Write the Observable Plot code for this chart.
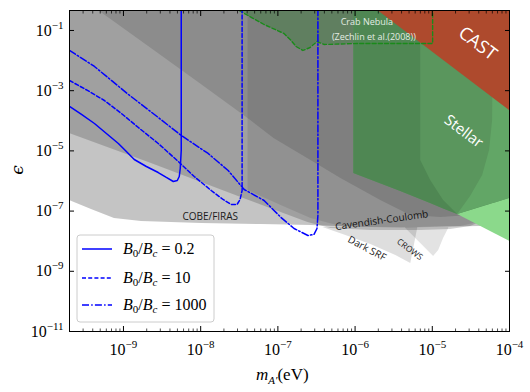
<!DOCTYPE html>
<html><head><meta charset="utf-8">
<script src="https://cdn.jsdelivr.net/npm/d3@7"></script>
<script src="https://cdn.jsdelivr.net/npm/@observablehq/plot@0.6"></script>
<style>body{margin:0;background:#fff}</style>
</head><body><div id="chart"></div>
<script>
// ---------- data (m in eV, epsilon) ----------
const xMajor = [1e-9, 1e-8, 1e-7, 1e-6, 1e-5, 1e-4];
const yMajor = [1e-11, 1e-9, 1e-7, 1e-5, 1e-3, 1e-1];

// B0/Bc = 0.2 (solid)
const solidM   = [2e-10, 2.86e-10, 4.21e-10, 6.01e-10, 8.59e-10, 1.09e-9, 1.38e-9, 1.98e-9, 2.82e-9, 3.59e-9, 4.42e-9, 4.98e-9, 5.28e-9, 5.44e-9, 5.6e-9, 5.6e-9];
const solidEps = [2.99e-4, 1.62e-4, 8.13e-5, 3.78e-5, 1.76e-5, 9.55e-6, 5.18e-6, 3.03e-6, 1.91e-6, 1.31e-6, 9.62e-7, 1.04e-6, 1.41e-6, 2.60e-6, 1.03e-5, 1];
// B0/Bc = 10 (dashed)
const dashM   = [2e-10, 3.42e-10, 5.66e-10, 9.40e-10, 1.56e-9, 2.82e-9, 5.13e-9, 8.25e-9, 1.37e-8, 1.95e-8, 2.48e-8, 2.96e-8, 3.24e-8, 3.44e-8, 3.44e-8];
const dashEps = [2.18e-3, 1.02e-3, 4.72e-4, 1.75e-4, 5.98e-5, 1.76e-5, 4.45e-6, 1.41e-6, 4.83e-7, 2.43e-7, 1.66e-7, 1.66e-7, 2.43e-7, 4.83e-7, 1];
// B0/Bc = 1000 (dash-dot)
const ddM   = [2e-10, 4.21e-10, 1.16e-9, 2.82e-9, 5.60e-9, 1.25e-8, 2.27e-8, 3.66e-8, 6.62e-8, 1.10e-7, 1.62e-7, 2.45e-7, 2.93e-7, 3.21e-7, 3.30e-7, 3.30e-7];
const ddEps = [2.17e-2, 6.37e-3, 7.48e-4, 1.29e-4, 3.25e-5, 8.20e-6, 2.23e-6, 5.22e-7, 2.25e-7, 6.12e-8, 2.64e-8, 1.55e-8, 1.67e-8, 2.64e-8, 7.14e-8, 1];

// COBE/FIRAS lower edge
const cobeM  = [2e-10, 3.85e-10, 7.64e-10, 1.71e-9, 1.02e-8, 6.05e-8, 2.68e-7, 1.19e-6, 7.08e-6, 4.22e-5, 1e-4];
const cobeLo = [2.25e-7, 1.13e-7, 5.67e-8, 4.51e-8, 3.87e-8, 3.59e-8, 3.33e-8, 2.85e-8, 2.85e-8, 3.08e-8, 3.33e-8];
// middle grey band (incl. Cavendish-Coulomb) lower edge
const bandM  = [2e-10, 2.30e-9, 3.34e-8, 1.10e-7, 2.45e-7, 4.86e-7, 1.60e-6, 7.08e-6, 1.73e-5, 3.13e-5, 1e-4];
const bandLo = [3.78e-5, 3.81e-6, 2.83e-7, 8.97e-8, 4.18e-8, 2.64e-8, 2.26e-8, 2.26e-8, 2.45e-8, 3.08e-8, 1.05e-7];
// upper dark grey region lower edge
const upM  = [4.74e-10, 2.30e-9, 1.02e-8, 4.11e-8, 8.91e-8, 2.68e-7, 6.55e-7, 2.15e-6, 5.26e-6, 1.29e-5, 3.13e-5, 1e-4];
const upLo = [0.461, 2.52e-2, 1.61e-3, 1.19e-4, 2.58e-5, 4.80e-6, 1.21e-6, 2.25e-7, 7.14e-8, 6.12e-8, 7.14e-8, 1.53e-7];
// right grey block lower edge
const blkM  = [4.11e-8, 1.10e-7, 2.68e-7, 6.55e-7, 3.91e-6, 2.33e-5, 1e-4];
const blkLo = [4.83e-7, 1.53e-7, 5.67e-8, 3.08e-8, 2.64e-8, 3.08e-8, 7.14e-8];
// Dark SRF and CROWS
const srfM  = [3.83e-7, 7.60e-7, 1.60e-6, 3.37e-6, 5.26e-6, 6.47e-6];
const srfLo = [2.85e-8, 1.55e-8, 7.76e-9, 3.35e-9, 1.82e-9, 2.64e-8];
const crowsM  = [4.53e-6, 7.08e-6, 1.04e-5, 1.21e-5, 1.40e-5, 1.63e-5];
const crowsLo = [2.64e-8, 8.40e-9, 3.10e-9, 4.91e-9, 1.23e-8, 2.64e-8];
const lowTop = 2.85e-8;
// Stellar
const stelM  = [9.64e-7, 3.91e-6, 2.13e-5, 4.22e-5, 1e-4];
const stelLo = [1.77e-6, 4.48e-7, 7.71e-8, 1.32e-7, 2.62e-7];
const stelLightM  = [2.13e-5, 1e-4];
const stelLightLo = [7.71e-8, 1.0e-8];
const stelDarkM  = [9.64e-7, 3.91e-6, 7.08e-6, 7.08e-6, 9.53e-6, 1.40e-5, 2.13e-5];
const stelDarkLo = [1.77e-6, 4.48e-7, 2.43e-7, 2.43e-7, 1.79e-7, 1.17e-7, 7.71e-8];
const stelDarkHi = [1, 1, 1, 4.80e-6, 1.04e-6, 2.25e-7, 7.71e-8];
const stelRightM  = [2.13e-5, 3.13e-5, 4.49e-5, 5.52e-5, 6.04e-5, 6.22e-5, 1e-4];
const stelRightLo = [7.71e-8, 1.05e-7, 1.42e-7, 1.66e-7, 1.79e-7, 1.79e-7, 2.62e-7];
const stelRightHi = [7.71e-8, 3.05e-7, 1.52e-6, 1.03e-5, 1.02e-4, 1, 1];
// CAST
const castM  = [1.97e-6, 1e-4];
const castLo = [0.461, 2.20e-4];
// Crab Nebula (Zechlin et al. 2008)
const crabM  = [3.15e-8, 6.62e-8, 1.20e-7, 1.48e-7, 1.72e-7, 2.11e-7, 2.61e-7, 3.21e-7, 3.95e-7, 1.09e-6, 1.01e-5];
const crabLo = [0.461, 0.158, 7.94e-2, 4.66e-2, 2.94e-2, 2.17e-2, 2.72e-2, 4.31e-2, 3.43e-2, 3.70e-2, 3.70e-2];

// region labels
const labelNames = ["COBE/FIRAS", "Cavendish-Coulomb", "Dark SRF", "CROWS", "Crab Nebula", "(Zechlin et al.(2008))", "CAST", "Stellar"];
const labelM   = [1.33e-8, 2.22e-6, 1.42e-6, 5.11e-6, 1.42e-6, 1.75e-6, 3.86e-5, 2.55e-5];
const labelEps = [6.62e-8, 4.88e-8, 5.71e-9, 5.29e-9, 0.185, 5.85e-2, 3.70e-2, 4.42e-5];

const legendValues = ["0.2", "10", "1000"];

// ---------- build ----------
const rows = (m, lo, hi) => m.map((v, i) => ({m: v, lo: lo[i], hi: hi ? (Array.isArray(hi) ? hi[i] : hi) : 1}));
const pts = (m, e) => m.map((v, i) => ({m: v, e: e[i]}));
const area = (m, lo, hi, o) => Plot.areaY(rows(m, lo, hi), {x: "m", y1: "lo", y2: "hi", clip: true, ...o});

const xMinor = [];
for (let e = -10; e <= -5; e++) for (let k = 2; k <= 9; k++) { const v = k * Math.pow(10, e); if (v > 2e-10 && v < 1e-4) xMinor.push(v); }
const expFmt = d => "\u2212" + Math.round(-Math.log10(d));

const lab = (i, o) => Plot.text([i], {x: j => labelM[j], y: j => labelEps[j], text: j => labelNames[j], fontFamily: "Open Sans", clip: false, ...o});

const DASH = "4,2.2";
const DASHDOT = "7,2.2,1.5,2.2";

const chart = Plot.plot({
  width: 530, height: 392,
  marginLeft: 69, marginRight: 21, marginTop: 10, marginBottom: 61,
  style: {fontFamily: "'Liberation Serif', serif", fontSize: "16px", background: "white", color: "black", overflow: "visible"},
  x: {type: "log", domain: [2e-10, 1e-4]},
  y: {type: "log", domain: [1e-11, 0.461]},
  marks: [
    area(srfM, srfLo, lowTop, {fill: "black", fillOpacity: 0.13}),
    area(crowsM, crowsLo, lowTop, {fill: "black", fillOpacity: 0.11}),
    area(cobeM, cobeLo, 1, {fill: "black", fillOpacity: 0.23}),
    area(bandM, bandLo, 1, {fill: "black", fillOpacity: 0.18}),
    area(upM, upLo, 1, {fill: "black", fillOpacity: 0.125}),
    area(blkM, blkLo, 1, {fill: "black", fillOpacity: 0.09}),
    area(crabM, crabLo, 1, {fill: "#008000", fillOpacity: 0.24}),
    area(stelLightM, stelLightLo, 1, {fill: "#8bd98b"}),
    area(stelM, stelLo, 1, {fill: "#5a965d"}),
    area(stelDarkM, stelDarkLo, stelDarkHi, {fill: "#4f8753"}),
    area(stelRightM, stelRightLo, stelRightHi, {fill: "#62a666"}),
    area(castM, castLo, 1, {fill: "#ae4a2d"}),
    Plot.line(pts([...crabM, 1.01e-5], [...crabLo, 1]), {x: "m", y: "e", stroke: "#1a8a1a", strokeWidth: 1.4, strokeDasharray: DASH, clip: true}),
    Plot.line(pts(solidM, solidEps), {x: "m", y: "e", stroke: "#0000ff", strokeWidth: 1.5, clip: true}),
    Plot.line(pts(dashM, dashEps), {x: "m", y: "e", stroke: "#0000ff", strokeWidth: 1.5, strokeDasharray: DASH, clip: true}),
    Plot.line(pts(ddM, ddEps), {x: "m", y: "e", stroke: "#0000ff", strokeWidth: 1.5, strokeDasharray: DASHDOT, clip: true}),
    lab(0, {fill: "#1a1a1a", fontSize: 10}),
    lab(1, {fill: "#111", fontSize: 10, rotate: -8}),
    lab(2, {fill: "#1a1a1a", fontSize: 10, rotate: 28}),
    lab(3, {fill: "#1a1a1a", fontSize: 8.5, rotate: 37}),
    lab(4, {fill: "#e3ece3", fontSize: 9}),
    lab(5, {fill: "#e3ece3", fontSize: 9}),
    lab(6, {fill: "white", fontSize: 18, rotate: 37}),
    lab(7, {fill: "white", fontSize: 15, rotate: 37}),
    Plot.axisX(xMajor, {anchor: "bottom", tickSize: -5, fill: "none", label: null}),
    Plot.axisX(xMinor, {anchor: "bottom", tickSize: -2.5, strokeWidth: 0.7, fill: "none", label: null}),
    Plot.axisX(xMajor, {anchor: "top", tickSize: -5, fill: "none", label: null}),
    Plot.axisX(xMinor, {anchor: "top", tickSize: -2.5, strokeWidth: 0.7, fill: "none", label: null}),
    Plot.axisX(xMajor, {anchor: "bottom", tickSize: 0, tickPadding: 12, stroke: "none", tickFormat: expFmt, label: null}),
    Plot.axisY(yMajor, {anchor: "left", tickSize: -5, fill: "none", label: null}),
    Plot.axisY(yMajor, {anchor: "right", tickSize: -5, fill: "none", label: null}),
    Plot.axisY(yMajor, {anchor: "left", tickSize: 0, tickPadding: 6, stroke: "none", tickFormat: expFmt, label: null}),
    Plot.frame({stroke: "black", strokeWidth: 1})
  ]
});
document.getElementById("chart").appendChild(chart);

// superscript tick labels 10^n
d3.select(chart).selectAll('g[aria-label="x-axis tick label"] text, g[aria-label="y-axis tick label"] text').each(function() {
  const t = d3.select(this);
  const ex = t.text();
  t.text("");
  t.append("tspan").text("10");
  t.append("tspan").attr("font-size", 11).attr("dy", -7).text(ex);
});

const svg = d3.select(chart);
// axis titles
const xl = svg.append("text").attr("x", 256).attr("y", 380).attr("text-anchor", "start")
  .attr("font-family", "'Liberation Serif', serif").attr("font-size", 17);
xl.append("tspan").attr("font-style", "italic").text("m");
xl.append("tspan").attr("font-style", "italic").attr("font-size", 11).attr("dy", 4).text("A\u2032");
xl.append("tspan").attr("dy", -4).text("(eV)");
svg.append("text").attr("transform", "translate(23,170) rotate(-90)").attr("text-anchor", "middle")
  .attr("font-family", "'DejaVu Serif', serif").attr("font-style", "italic").attr("font-size", 17).text("\u03f5");

// legend
const lg = svg.append("g").attr("text-anchor", "start");
lg.append("rect").attr("x", 77).attr("y", 235).attr("width", 137).attr("height", 87).attr("rx", 3)
  .attr("fill", "white").attr("fill-opacity", 0.85).attr("stroke", "#cccccc");
const dashes = [null, DASH, DASHDOT];
const ys = [249, 278, 305];
legendValues.forEach((v, i) => {
  lg.append("line").attr("x1", 82).attr("x2", 112).attr("y1", ys[i]).attr("y2", ys[i])
    .attr("stroke", "#0000ff").attr("stroke-width", 1.5).attr("stroke-dasharray", dashes[i]);
  const t = lg.append("text").attr("x", 123).attr("y", ys[i] + 5).attr("text-anchor", "start")
    .attr("font-family", "'Liberation Serif', serif").attr("font-size", 16);
  t.append("tspan").attr("font-style", "italic").text("B");
  t.append("tspan").attr("font-size", 11).attr("dy", 3).text("0");
  t.append("tspan").attr("dy", -3).text("/");
  t.append("tspan").attr("font-style", "italic").text("B");
  t.append("tspan").attr("font-style", "italic").attr("font-size", 11).attr("dy", 3).text("c");
  t.append("tspan").attr("dy", -3).text(" = " + v);
});
</script></body></html>
